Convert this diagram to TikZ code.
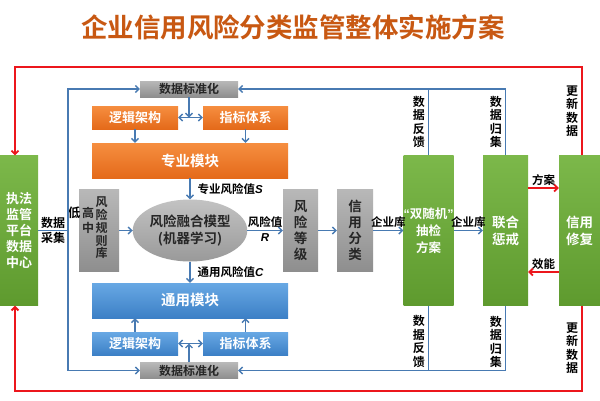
\documentclass[tikz,border=0pt]{standalone}
\usepackage{fontspec}
\setmainfont{Noto Sans CJK SC}[BoldFont={Noto Sans CJK SC Bold}]
\newfontfamily\lsans{Liberation Sans}
\usepackage{tikz}
\usetikzlibrary{arrows.meta,shapes.geometric}
\definecolor{titleor}{RGB}{200,88,18}
\definecolor{lineblue}{RGB}{72,122,178}
\definecolor{linered}{RGB}{236,22,28}
\definecolor{orTop}{RGB}{246,142,64}
\definecolor{orBot}{RGB}{228,106,26}
\definecolor{blTop}{RGB}{104,168,228}
\definecolor{blBot}{RGB}{60,128,198}
\definecolor{grTop}{RGB}{124,184,74}
\definecolor{grBot}{RGB}{94,154,46}
\definecolor{gyTop}{RGB}{184,184,184}
\definecolor{gyBot}{RGB}{142,142,142}
\newcommand{\fs}[2]{\fontsize{#1}{#2}\selectfont}
\newcommand{\itl}[1]{{\lsans\bfseries\itshape #1}}

\begin{document}
\begin{tikzpicture}[x=1pt,y=-1pt,font=\fs{13}{16}\bfseries,>={Straight Barb[length=3.5pt,width=7pt]},
  box/.style={rectangle,inner sep=0pt,align=center},
  orbox/.style={box,top color=orTop,bottom color=orBot,text=white},
  blbox/.style={box,top color=blTop,bottom color=blBot,text=white},
  grbox/.style={box,top color=grTop,bottom color=grBot,text=white,minimum height=150},
  gybox/.style={box,top color=gyTop,bottom color=gyBot,text=black!85},
  stdbox/.style={gybox,minimum width=98,minimum height=16,font=\fs{12}{13}\bfseries},
  vtext/.style={align=center,inner sep=3pt,font=\fs{12}{13.5}\bfseries},
  lbl/.style={inner sep=2pt,font=\fs{11.5}{14}\bfseries},
  bflow/.style={draw=lineblue,line width=1.4pt},
  rflow/.style={draw=linered,line width=1.8pt}]
\useasboundingbox[fill=white] (0,0) rectangle (600,400);
\node[font=\fs{26.5}{30}\bfseries,text=titleor] (title) at (293,27) {企业信用风险分类监管整体实施方案};

\node[grbox,minimum width=38] (jf) at (19,230.5) {执法\\监管\\平台\\数据\\中心};
\node[grbox,minimum width=45,font=\fs{12.5}{17}\bfseries] (sj) at (428.5,230.5) {{\lsans “}双随机{\lsans ”}\\抽检\\方案};
\node[grbox,minimum width=45,font=\fs{13.5}{17}\bfseries] (lh) at (505.5,230.5) {联合\\惩戒};
\node[grbox,minimum width=41,font=\fs{13.5}{17}\bfseries] (xf) at (579.5,230.5) {信用\\修复};

\node[stdbox] (std1) at (189,89) {数据标准化};
\node[orbox,minimum width=86,minimum height=23] (la1) at (135,117.5) {逻辑架构};
\node[orbox,minimum width=85,minimum height=23] (zb1) at (245.5,117.5) {指标体系};
\node[orbox,minimum width=196,minimum height=35,font=\fs{14.5}{16}\bfseries] (zy) at (190,160.5) {专业模块};

\node[gybox,minimum width=40,minimum height=82] (gz) at (99,230.5) {};
\node[vtext,text=black!85,font=\fs{12}{12.8}\bfseries] (gzt) at (101.5,228) {风\\险\\规\\则\\库};
\node[vtext,text=black!85,font=\fs{12}{14.5}\bfseries] (gzm) at (88,220.5) {高\\中};
\node[vtext,font=\fs{12.5}{15}\bfseries] (low) at (74,213) {低};
\node[ellipse,inner sep=0pt,align=center,top color=gyTop!85!white,bottom color=gyBot!90!white,minimum width=113,minimum height=62,font=\fs{13.5}{17}\bfseries,text=black!85] (mx) at (190,230.5) {风险融合模型\\(机器学习)};
\node[gybox,minimum width=35,minimum height=82,font=\fs{13.5}{16}\bfseries] (dj) at (300.5,230.5) {风\\险\\等\\级};
\node[gybox,minimum width=36,minimum height=82,font=\fs{13.5}{16}\bfseries] (fl) at (355,230.5) {信\\用\\分\\类};

\node[blbox,minimum width=196,minimum height=35,font=\fs{14.5}{16}\bfseries] (ty) at (190,300.5) {通用模块};
\node[blbox,minimum width=86,minimum height=23] (la2) at (135,343.5) {逻辑架构};
\node[blbox,minimum width=85,minimum height=23] (zb2) at (245.5,343.5) {指标体系};
\node[stdbox] (std2) at (189,370.5) {数据标准化};

\coordinate (cj) at (68,230.5);
\coordinate (rtl) at (15,67);
\coordinate (rtr) at (582,67);
\coordinate (rbl) at (15,391);
\coordinate (rbr) at (582,391);

\draw[bflow] (jf) -- node[lbl,align=center,font=\fs{12}{15}\bfseries] {数据\\采集} (cj);
\draw[bflow,->] (cj) |- (std1);
\draw[bflow,->] (cj) |- (std2);
\draw[bflow,->] (std1) -- (std1 |- la1.east);
\draw[bflow,<->] (la1) -- (zb1);
\draw[bflow,->] (la1) -- (la1 |- zy.north);
\draw[bflow,->] (zb1) -- (zb1 |- zy.north);
\draw[bflow,->] (zy) -- node[lbl,right,xshift=5pt] {专业风险值\itl{S}} (mx);
\draw[bflow,->] (mx) -- node[lbl,right,xshift=5pt] {通用风险值\itl{C}} (ty);
\draw[bflow,->] (std2) -- (std2 |- la2.east);
\draw[bflow,<->] (la2) -- (zb2);
\draw[bflow,->] (la2) -- (la2 |- ty.south);
\draw[bflow,->] (zb2) -- (zb2 |- ty.south);
\draw[bflow,->] (gz) -- (mx);
\draw[bflow,->] (mx) -- node[lbl,above] {风险值} node[lbl,below] {\itl{R}} (dj);
\draw[bflow,->] (dj) -- (fl);
\draw[bflow,->] (fl) -- node[lbl,above] {企业库} (sj);
\draw[bflow,->] (sj) -- node[lbl,above] {企业库} (lh);
\draw[bflow] (sj.north) -- node[vtext,left] {数\\据\\反\\馈} (sj.north |- std1);
\draw[bflow,->] (lh.north) |- node[vtext,left,pos=0.25] {数\\据\\归\\集} (std1);
\draw[bflow] (sj.south) -- node[vtext,left,pos=0.55] {数\\据\\反\\馈} (sj.south |- std2);
\draw[bflow,->] (lh.south) |- node[vtext,left,pos=0.28] {数\\据\\归\\集} (std2);

\draw[rflow,->] (rtr |- xf.north) -- node[vtext,left] {更\\新\\数\\据} (rtr) -- (rtl) -- (rtl |- jf.north);
\draw[rflow,->] (rbr |- xf.south) -- node[vtext,left] {更\\新\\数\\据} (rbr) -- (rbl) -- (rbl |- jf.south);
\draw[rflow,->] ([yshift=42.5pt]lh.east) -- node[lbl,above] {方案} ([yshift=42.5pt]xf.west);
\draw[rflow,->] ([yshift=-41.5pt]xf.west) -- node[lbl,above] {效能} ([yshift=-41.5pt]lh.east);
\end{tikzpicture}
\end{document}
